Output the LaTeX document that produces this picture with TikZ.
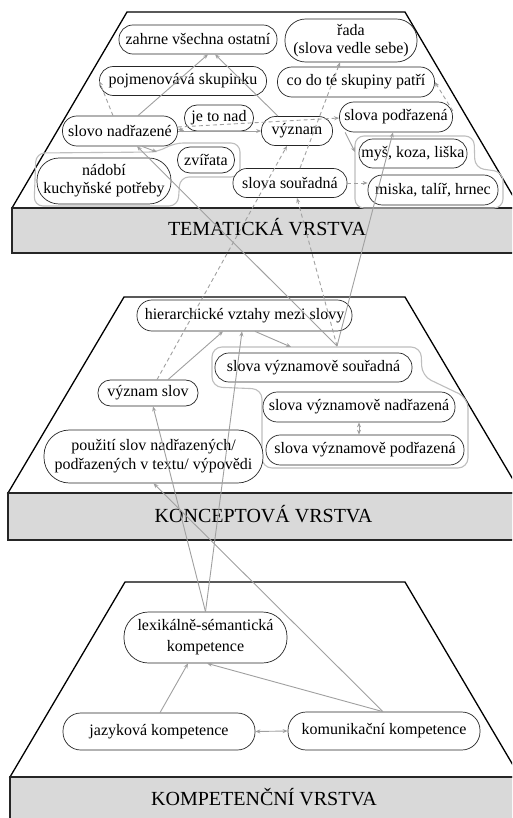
\documentclass[tikz,border=0pt]{standalone}
\usepackage{fontspec}
\setmainfont{Liberation Serif}
\usetikzlibrary{arrows.meta}
\definecolor{slabfill}{RGB}{217,217,217}
\definecolor{linkgray}{RGB}{160,160,160}
\definecolor{hullgray}{RGB}{190,190,190}
\newcommand{\nf}{\fontsize{16}{18}\selectfont}
\newcommand{\lf}{\fontsize{20}{24}\selectfont}

\begin{document}
\begin{tikzpicture}[x=1pt,y=-1pt,
  >={Stealth[length=5pt,width=4pt]},
  plane/.style={draw=black, line width=1.3pt, fill=white},
  slab/.style={draw=black!85, line width=1.2pt, fill=slabfill},
  layername/.style={font=\lf, inner sep=0pt, anchor=base},
  pill/.style 2 args={draw=black!85, line width=0.7pt, fill=white, inner sep=0pt,
    align=center, font=\nf, minimum width=#1pt, minimum height=#2pt,
    rounded corners=#2*0.48pt},
  conn/.style={draw=linkgray, line width=0.9pt, ->},
  dconn/.style={conn, dash pattern=on 4pt off 3pt},
  hull/.style={draw=hullgray, line width=1.1pt, rounded corners=9pt},
]
\useasboundingbox (0,0) rectangle (512,818);
\clip (0,0) rectangle (512,818);

% three layers: a plane seen in perspective over a grey slab
\draw[plane] (127,12) -- (405,12) -- (520,208) -- (12,208) -- cycle;
\draw[slab] (12,208) rectangle (522,253);
\draw[plane] (124,297) -- (405,297) -- (521,493) -- (8,493) -- cycle;
\draw[slab] (8,493) rectangle (522,540);
\draw[plane] (125,582) -- (405,582) -- (520,777) -- (10,777) -- cycle;
\draw[slab] (10,777) rectangle (522,822);

\node[layername] (tl) at (267,236) {TEMATICKÁ VRSTVA};
\node[layername] (kl) at (263.5,522) {KONCEPTOVÁ VRSTVA};
\node[layername] (cl) at (264,805) {KOMPETENČNÍ VRSTVA};

% group outlines
\draw[hull] (36,153) -- (158,152) -- (174,143) -- (240,143) -- (240,177)
  -- (180,177) -- (178,206) -- (34,206) -- cycle;
\draw[hull] (355,136) -- (474,136) -- (475,168) -- (503,172) -- (503,208)
  -- (355,208) -- cycle;
\draw[hull, rounded corners=10pt] (212,347) -- (421,347) -- (422,376) -- (468,398)
  -- (468,468) -- (262,468) -- (262,389) -- (212,387) -- cycle;
\coordinate (gLtop) at (157,152);
\coordinate (gRleft) at (355,152);
\coordinate (gKtop) at (337,346);
\coordinate (gKin) at (291,347);

% thematic layer
\node[pill={158}{29}] (zahrne) at (198,39.5) {zahrne všechna ostatní};
\node[pill={132}{43}] (rada) at (351,40.5) {řada\\(slova vedle sebe)};
\node[pill={167}{29}] (pojm) at (183,81) {pojmenovává skupinku};
\node[pill={157}{30}] (codo) at (356,82) {co do té skupiny patří};
\node[pill={113}{30}] (podr) at (396,117) {slova podřazená};
\node[pill={115}{30}] (nad) at (120,131) {slovo nadřazené};
\node[pill={69}{26}] (jeto) at (219,118) {je to nad};
\node[pill={71}{29}] (vyz) at (297,131) {význam};
\node[pill={57}{26}] (zvir) at (206,160) {zvířata};
\node[pill={134}{46}] (nadobi) at (104,181) {nádobí\\kuchyňské potřeby};
\node[pill={114}{29}] (sour) at (290,183) {slova souřadná};
\node[pill={108}{29}] (mys) at (413,153.5) {myš, koza, liška};
\node[pill={130}{30}] (miska) at (433,190) {miska, talíř, hrnec};

% conceptual layer
\node[pill={215}{31}] (hier) at (244.5,315.5) {hierarchické vztahy mezi slovy};
\node[pill={197}{29}] (ksour) at (313.5,367.5) {slova významově souřadná};
\node[pill={100}{26}] (vslov) at (148,393) {význam slov};
\node[pill={192}{30}] (knad) at (359,407) {slova významově nadřazená};
\node[pill={198}{30}] (kpod) at (365,450) {slova významově podřazená};
\node[pill={219}{53}] (pouz) at (153.5,456.5) {použití slov nadřazených/\\[1pt]podřazených v textu/ výpovědi};

% competence layer
\node[pill={163}{51}] (lex) at (205.5,637.5) {lexikálně-sémantická\\[3pt]kompetence};
\node[pill={192}{37}] (jaz) at (159,731.5) {jazyková kompetence};
\node[pill={192}{38}] (kom) at (384,731) {komunikační kompetence};

% links inside the thematic layer
\draw[dconn] ([xshift=-7pt]nad.north) -- (pojm.west);
\draw[conn] ([xshift=18pt]nad.north) -- ([xshift=10pt]zahrne.south);
\draw[conn] ([xshift=-19pt]vyz.north) -- ([xshift=17pt]zahrne.south);
\draw[conn,<->] ([yshift=2pt]nad.east) -- (jeto.200);
\draw[conn] (nad.east) -- (vyz.west);
\draw[dconn] ([yshift=4pt]nad.east) -- ([yshift=-1pt]podr.west);
\draw[dconn] ([yshift=6pt]podr.east) -- (codo.east);
\draw[conn] ([xshift=6pt]podr.south west) -- (gRleft);
\draw[dconn] (sour.east) -- (miska.west |- sour.east);
\draw[dconn] ([xshift=10pt]sour.north) -- ([xshift=-11pt]rada.south);
\draw[conn] ([xshift=22pt]nad.south) -- (gLtop);

% links inside the conceptual layer and up to the thematic one
\draw[conn] ([xshift=20pt]vslov.north) -- ([xshift=-21.5pt]hier.south);
\draw[conn] ([xshift=10.5pt]hier.south) -- (gKin);
\draw[conn,<->] (knad.south) -- (knad.south |- kpod.north);
\draw[dconn] ([xshift=9pt]vslov.north) -- ([xshift=-10pt]vyz.south);
\draw[conn] (gKtop) -- ([xshift=17pt]nad.south);
\draw[conn] (gKtop) -- ([xshift=-3pt]podr.south);
\draw[dconn] (gKtop) -- ([xshift=7pt]sour.south);

% links from the competence layer
\draw[conn] (lex.north) -- ([xshift=5pt]vslov.south);
\draw[conn] (lex.north) -- ([xshift=-2.5pt]hier.south);
\draw[conn,<->] (jaz.east) -- (kom.west);
\draw[conn] ([xshift=1pt]jaz.north) -- ([xshift=-17.5pt]lex.south);
\draw[conn] ([xshift=-1pt]kom.north) -- ([xshift=1.5pt]lex.south);
\draw[conn] ([xshift=-1pt]kom.north) -- (pouz.south);
\end{tikzpicture}
\end{document}
